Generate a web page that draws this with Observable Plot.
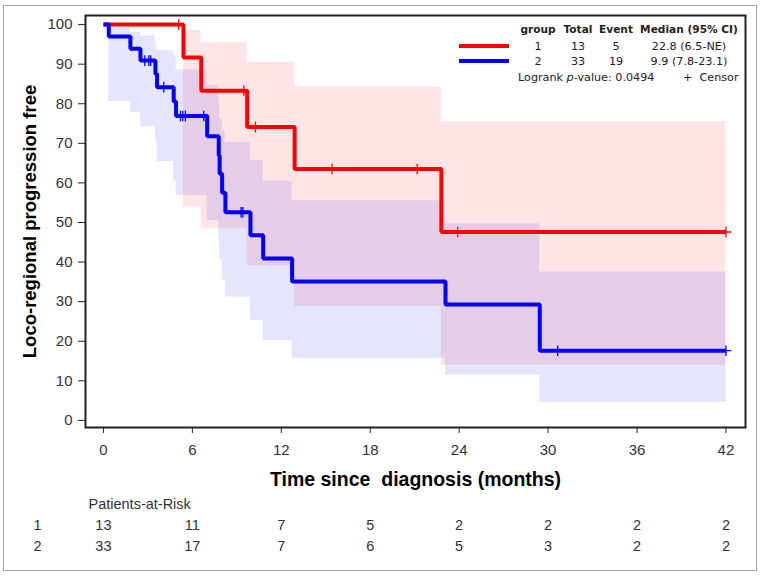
<!DOCTYPE html>
<html><head><meta charset="utf-8">
<script src="https://cdn.jsdelivr.net/npm/d3@7"></script>
<script src="https://cdn.jsdelivr.net/npm/@observablehq/plot@0.6"></script>
<style>
html,body{margin:0;padding:0;background:#fff;}
#wrap{position:relative;width:762px;height:577px;overflow:hidden;font-family:"Liberation Sans",Arial,sans-serif;}
#border{position:absolute;left:3px;top:5px;width:754px;height:566px;border:1.5px solid #a8a8a8;box-sizing:border-box;}
#p1{position:absolute;left:0;top:0;}
#p2{position:absolute;left:0;top:490px;}
#legend{position:absolute;left:0;top:0;width:762px;height:100px;pointer-events:none;}
.lg{position:absolute;font-family:"DejaVu Sans",Verdana,sans-serif;font-size:11.2px;color:#222;white-space:nowrap;transform:translate(-50%,-50%);}
.lgl{position:absolute;font-family:"DejaVu Sans",Verdana,sans-serif;font-size:11.2px;color:#222;white-space:nowrap;transform:translate(0,-50%);}
.sw{position:absolute;height:4px;}
</style></head>
<body><div id="wrap"><div id="border"></div><div id="p1"></div><div id="p2"></div><div id="legend"></div></div>
<script>
// ---- data ----
const xTicks = [0, 6, 12, 18, 24, 30, 36, 42];
const yTicks = [0, 10, 20, 30, 40, 50, 60, 70, 80, 90, 100];

// group 1 (red)
const redTime = [0, 5.4, 6.6, 9.7, 12.9, 22.8, 42];
const redSurv = [100, 91.7, 83.3, 74.1, 63.5, 47.6, 47.6];
const redCensorTime = [5.08, 9.47, 10.26, 15.43, 21.17, 23.9, 42];
const redCensorSurv = [100, 83.3, 74.1, 63.5, 63.5, 47.6, 47.6];
const redBandTime = [5.4, 6.6, 9.7, 12.9, 22.8, 42];
const redBandLow  = [53.9, 48.4, 39.1, 28.8, 13.9, 13.9];
const redBandHigh = [98.6, 95.4, 90.5, 84.3, 75.5, 75.5];

// group 2 (blue)
const blueTime = [0, 0.36, 1.82, 2.5, 3.51, 3.62, 4.74, 4.9, 7.0, 7.78, 7.84, 8.01, 8.23, 9.92, 10.78, 12.73, 23.08, 29.44, 42];
const blueSurv = [100, 97.0, 93.9, 90.9, 87.5, 84.2, 80.6, 76.9, 71.8, 66.9, 62.3, 57.5, 52.6, 46.8, 40.9, 35.1, 29.3, 17.6, 17.6];
const blueCensorTime = [2.79, 3.06, 3.19, 4.07, 5.2, 5.35, 5.53, 6.77, 9.29, 9.41, 30.65, 42];
const blueCensorSurv = [90.9, 90.9, 90.9, 84.2, 76.9, 76.9, 76.9, 76.9, 52.6, 52.6, 17.6, 17.6];
const blueBandTime = [0.36, 1.82, 2.5, 3.51, 3.62, 4.74, 4.9, 7.0, 7.78, 7.84, 8.01, 8.23, 9.92, 10.78, 12.73, 23.08, 29.44, 42];
const blueBandLow  = [80.6, 77.8, 74.2, 70.5, 65.4, 60.5, 56.8, 50.5, 45.0, 40.5, 35.4, 31.1, 25.3, 20.2, 15.6, 11.4, 4.6, 4.6];
const blueBandHigh = [99.2, 98.0, 97.2, 95.0, 93.5, 92.0, 88.5, 84.6, 80.0, 76.0, 73.0, 70.3, 65.7, 60.4, 55.5, 49.7, 37.5, 37.5];

// risk table
const riskTimes = [0, 6, 12, 18, 24, 30, 36, 42];
const risk1 = [13, 11, 7, 5, 2, 2, 2, 2];
const risk2 = [33, 17, 7, 6, 5, 3, 2, 2];

// legend table
const legendHeaders = ["group", "Total", "Event", "Median (95% CI)"];
const groups = ["1", "2"];
const totals = [13, 33];
const events = [5, 19];
const medians = ["22.8 (6.5-NE)", "9.9 (7.8-23.1)"];
const groupColors = ["#ff0000", "#0000ff"];

const xTitle = "Time since  diagnosis (months)";
const yTitle = "Loco-regional progression free";

// ---- build tables ----
const zip2 = (a, b, k1, k2) => a.map((v, i) => ({[k1]: v, [k2]: b[i]}));
const red = zip2(redTime, redSurv, "t", "s");
const blue = zip2(blueTime, blueSurv, "t", "s");
const redC = zip2(redCensorTime, redCensorSurv, "t", "s");
const blueC = zip2(blueCensorTime, blueCensorSurv, "t", "s");
const redBand = redBandTime.map((t, i) => ({t, lo: redBandLow[i], hi: redBandHigh[i]}));
const blueBand = blueBandTime.map((t, i) => ({t, lo: blueBandLow[i], hi: blueBandHigh[i]}));

const xDomain = [-1.21, 43.32];
const font = "'Liberation Sans', Arial, sans-serif";
const lineOpts = {x: "t", y: "s", curve: "step-after", strokeWidth: 4, strokeLinejoin: "miter", strokeLinecap: "butt"};

const p1 = Plot.plot({
  width: 762, height: 490,
  marginLeft: 85, marginRight: 17, marginTop: 15, marginBottom: 63,
  style: {fontFamily: font, fontSize: "15px", color: "#333", background: "transparent", overflow: "visible"},
  x: {domain: xDomain, label: null},
  y: {domain: [-1.8, 102.3], label: null},
  marks: [
    Plot.areaY(redBand, {x: "t", y1: "lo", y2: "hi", curve: "step-after", fill: "#ff0000", fillOpacity: 0.1}),
    Plot.areaY(blueBand, {x: "t", y1: "lo", y2: "hi", curve: "step-after", fill: "#0000ff", fillOpacity: 0.1}),
    Plot.line(red, {...lineOpts, stroke: "#ff0000"}),
    Plot.line(blue, {...lineOpts, stroke: "#0000ff"}),
    Plot.dot(redC, {x: "t", y: "s", symbol: "plus", r: 3.5, stroke: "#ff0000", strokeWidth: 1.3}),
    Plot.dot(blueC, {x: "t", y: "s", symbol: "plus", r: 3.5, stroke: "#0000ff", strokeWidth: 1.3}),
    Plot.axisX({ticks: xTicks, tickSize: 6, tickPadding: 11, label: null, stroke: "#222"}),
    Plot.axisY({ticks: yTicks, tickSize: 7, tickPadding: 6, label: null, stroke: "#222"}),
    Plot.frame({stroke: "#222", strokeWidth: 2}),
    Plot.text([xTitle], {text: d => d, frameAnchor: "bottom", dy: 58, fontSize: 19.5, fontWeight: "bold", fill: "#000"}),
    Plot.text([yTitle], {text: d => d, frameAnchor: "left", textAnchor: "middle", dx: -55, rotate: -90, fontSize: 18.5, fontWeight: "bold", fill: "#000"})
  ]
});
document.getElementById("p1").appendChild(p1);

const riskRows = [];
riskTimes.forEach((t, i) => {
  riskRows.push({t, g: groups[0], n: risk1[i]});
  riskRows.push({t, g: groups[1], n: risk2[i]});
});
const p2 = Plot.plot({
  width: 762, height: 87,
  marginLeft: 85, marginRight: 17, marginTop: 0, marginBottom: 0,
  style: {fontFamily: font, fontSize: "14.5px", color: "#333", background: "transparent", overflow: "visible"},
  x: {domain: xDomain, axis: null},
  y: {type: "point", domain: ["h", ...groups], range: [13, 56], padding: 0, axis: null},
  marks: [
    Plot.text(riskRows, {x: "t", y: "g", text: d => String(d.n), fontSize: 14.5, fill: "#333"}),
    Plot.text(groups, {y: d => d, text: d => d, frameAnchor: "left", textAnchor: "middle", dx: -48, fontSize: 14.5, fill: "#333"}),
    Plot.text(["Patients-at-Risk"], {y: () => "h", text: d => d, frameAnchor: "left", dx: 3, textAnchor: "start", fontSize: 14.5, fill: "#333"})
  ]
});
document.getElementById("p2").appendChild(p2);

// ---- legend (inset table) ----
const lg = document.getElementById("legend");
const colX = [538, 578, 616, 689];
function addText(txt, x, y, cls, bold) {
  const d = document.createElement("div");
  d.className = cls; d.style.left = x + "px"; d.style.top = y + "px";
  if (bold) { d.style.fontWeight = "bold"; d.style.fontSize = "10.6px"; }
  d.innerHTML = txt; lg.appendChild(d);
}
legendHeaders.forEach((h, i) => addText(h, colX[i], 29, "lg", true));
groups.forEach((g, i) => {
  const y = 46 + i * 15;
  const sw = document.createElement("div");
  sw.className = "sw"; sw.style.left = "459px"; sw.style.width = "50px";
  sw.style.top = (y - 2) + "px"; sw.style.background = groupColors[i];
  lg.appendChild(sw);
  addText(g, colX[0], y, "lg");
  addText(String(totals[i]), colX[1], y, "lg");
  addText(String(events[i]), colX[2], y, "lg");
  addText(medians[i], colX[3], y, "lg");
});
addText("Logrank <i>p</i>-value: 0.0494", 518, 77, "lgl");
addText("+&nbsp;&nbsp;Censor", 683, 77, "lgl");
</script>
</body></html>
